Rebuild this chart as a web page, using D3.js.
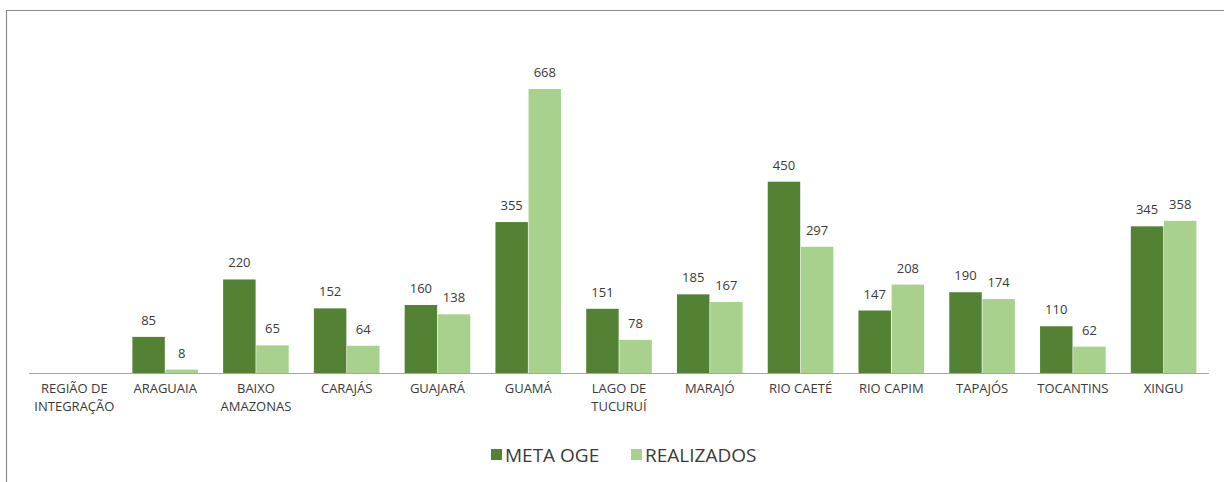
<!DOCTYPE html>
<html>
<head>
<meta charset="utf-8">
<script src="https://cdn.jsdelivr.net/npm/d3@7"></script>
<style>
  body { margin: 0; background: #fff; }
  svg text { font-family: "Open Sans", "Noto Sans", sans-serif; fill: #3a3a3a; }
</style>
</head>
<body>
<div id="chart"></div>
<script>
var categories = ["REGIÃO DE|INTEGRAÇÃO", "ARAGUAIA", "BAIXO|AMAZONAS", "CARAJÁS", "GUAJARÁ", "GUAMÁ",
    "LAGO DE|TUCURUÍ", "MARAJÓ", "RIO CAETÉ", "RIO CAPIM", "TAPAJÓS", "TOCANTINS", "XINGU"];
var metaOge =    [null, 85, 220, 152, 160, 355, 151, 185, 450, 147, 190, 110, 345];
var realizados = [null, 8, 65, 64, 138, 668, 78, 167, 297, 208, 174, 62, 358];
var seriesNames = ["META OGE", "REALIZADOS"];
var seriesColors = ["#548235", "#a9d18e"];

var width = 1224, height = 482;

var svg = d3.select("#chart").append("svg")
    .attr("width", width)
    .attr("height", height);

// frame (only top and left edges show in the picture)
svg.append("line").attr("x1", 6.5).attr("x2", width).attr("y1", 10.5).attr("y2", 10.5)
    .attr("stroke", "#8c8c8c").attr("stroke-width", 1.2);
svg.append("line").attr("x1", 6.5).attr("x2", 6.5).attr("y1", 10).attr("y2", height)
    .attr("stroke", "#8c8c8c").attr("stroke-width", 1.2);

var x = d3.scaleBand()
    .domain(d3.range(categories.length))
    .range([29, 1209])
    .paddingInner(0)
    .paddingOuter(0);

var x1 = d3.scaleBand()
    .domain([0, 1])
    .range([0, x.bandwidth()])
    .paddingInner(0.02)
    .paddingOuter(0.38);

var y = d3.scaleLinear()
    .domain([0, 668])
    .range([373, 89]);

var rows = categories.map(function(c, i) {
    return { i: i, values: [metaOge[i], realizados[i]] };
});

var groups = svg.append("g").selectAll("g")
    .data(rows)
    .enter().append("g")
    .attr("transform", function(d) { return "translate(" + x(d.i) + ",0)"; });

groups.selectAll("rect")
    .data(function(d) { return d.values.map(function(v, k) { return { k: k, v: v }; }).filter(function(e) { return e.v != null; }); })
    .enter().append("rect")
    .attr("x", function(e) { return x1(e.k); })
    .attr("width", x1.bandwidth())
    .attr("y", function(e) { return y(e.v); })
    .attr("height", function(e) { return y(0) - y(e.v); })
    .attr("fill", function(e) { return seriesColors[e.k]; });

groups.selectAll("text.val")
    .data(function(d) { return d.values.map(function(v, k) { return { k: k, v: v }; }).filter(function(e) { return e.v != null; }); })
    .enter().append("text")
    .attr("class", "val")
    .attr("x", function(e) { return x1(e.k) + x1.bandwidth() / 2; })
    .attr("y", function(e) { return y(e.v) - 12; })
    .attr("text-anchor", "middle")
    .style("font-size", "13px")
    .text(function(e) { return e.v; });

// baseline
svg.append("line")
    .attr("x1", x.range()[0]).attr("x2", x.range()[1])
    .attr("y1", y(0) + 0.5).attr("y2", y(0) + 0.5)
    .attr("stroke", "#a6a6a6").attr("stroke-width", 1);

// category labels
var labels = svg.append("g").selectAll("text")
    .data(categories)
    .enter().append("text")
    .attr("text-anchor", "middle")
    .attr("y", 393)
    .style("font-size", "13px")
    .attr("transform", function(d, i) { return "translate(" + (x(i) + x.bandwidth() / 2) + ",0)"; });

labels.selectAll("tspan")
    .data(function(d) { return d.split("|"); })
    .enter().append("tspan")
    .attr("x", 0)
    .attr("dy", function(d, j) { return j ? 18 : 0; })
    .text(function(d) { return d; });

// legend
var legend = svg.append("g");
var legendX = [491, 631];
seriesNames.forEach(function(name, k) {
    legend.append("rect")
        .attr("x", legendX[k]).attr("y", 449)
        .attr("width", 11).attr("height", 11)
        .attr("fill", seriesColors[k]);
    legend.append("text")
        .attr("x", legendX[k] + 14).attr("y", 462)
        .style("font-size", "19px")
        .text(name);
});
</script>
</body>
</html>
